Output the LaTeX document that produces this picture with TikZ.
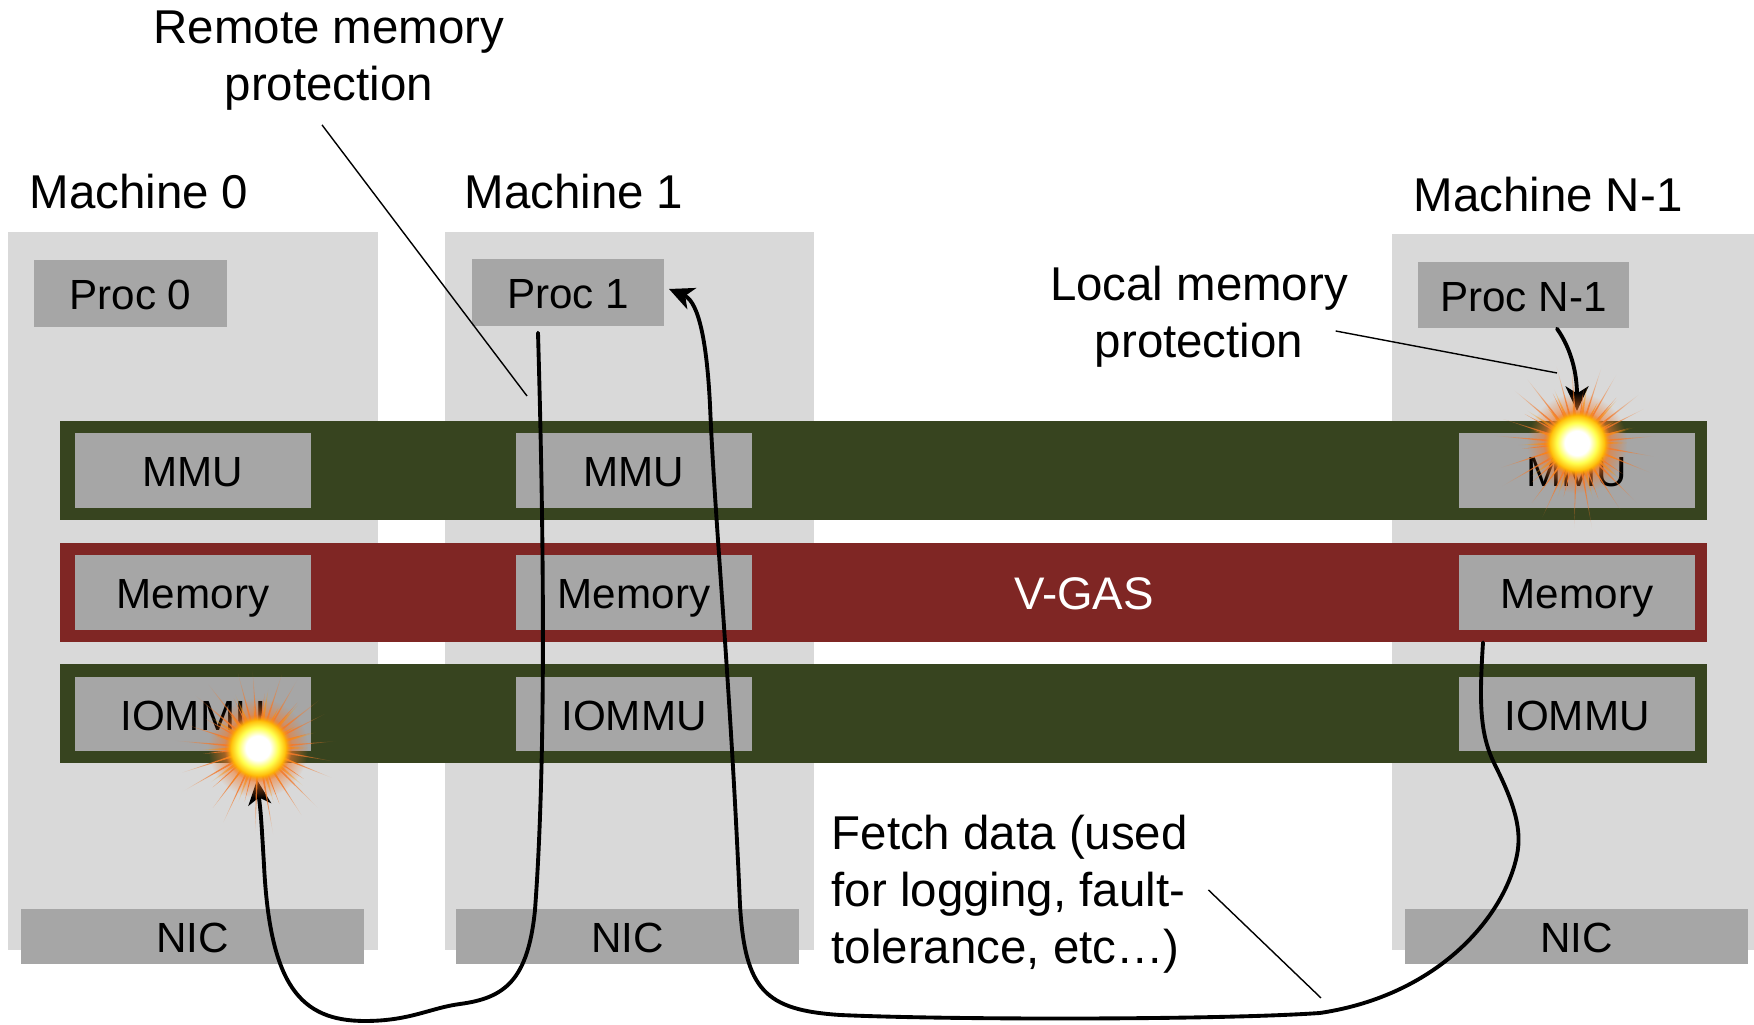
\documentclass[tikz,border=0pt]{standalone}
\usepackage{fontspec}
\setmainfont{Liberation Sans}
\usepackage{tikz}
\usetikzlibrary{arrows.meta, fadings}

\definecolor{colgray}{HTML}{D9D9D9}
\definecolor{boxgray}{HTML}{A6A6A6}
\definecolor{bargreen}{HTML}{37441F}
\definecolor{barred}{HTML}{7F2624}
\definecolor{flame}{HTML}{F47A2A}

% glow of a protection fault
\pgfdeclareradialshading{burstcore}{\pgfpoint{0cm}{0cm}}{color(0bp)=(white); color(9bp)=(white); color(15bp)=(yellow!70!white); color(21bp)=(orange!60!yellow); color(25bp)=(flame)}
\pgfdeclareradialshading{raysalpha}{\pgfpoint{0cm}{0cm}}{color(0bp)=(white); color(13bp)=(white!85!black); color(25bp)=(black); color(50bp)=(black)}
\pgfdeclarefading{raysfade}{\pgfuseshading{raysalpha}}

\tikzset{
>={Stealth[length=7pt,width=6.5pt,inset=2pt]}, % arrow heads of the data paths
machine/.style={fill=colgray, inner sep=0pt, minimum height=7.18cm}, % one column per machine
unit/.style={fill=boxgray, inner sep=0pt, text height=0.33cm, text depth=0pt, minimum width=2.36cm, minimum height=0.745cm, font=\fontsize{12}{14}\selectfont},
bar/.style={inner sep=0pt, minimum width=16.47cm, minimum height=0.99cm}, % layers spanning all machines
title/.style={inner sep=0pt, font=\fontsize{13.5}{16.2}\selectfont},
note/.style={inner sep=0pt, font=\fontsize{13.5}{16.2}\selectfont},
flow/.style={line width=1.1pt, line cap=round},
leader/.style={line width=0.4pt},
burst/.pic={
  % long rays
  \fill[flame, path fading=raysfade]
    (0:0.1) \foreach \a/\r in {5/0.8, 16/0.55, 27/0.75, 38/0.9, 49/0.6, 60/0.8, 72/0.85, 83/0.55, 94/0.78,
      105/0.8, 116/0.55, 128/0.88, 140/0.9, 151/0.6, 162/0.78, 175/0.85, 186/0.55, 198/0.8,
      210/0.88, 221/0.6, 233/0.75, 245/0.82, 256/0.55, 268/0.85, 280/0.9, 291/0.6, 303/0.8,
      315/0.85, 326/0.55, 338/0.8, 350/0.78}
      { -- (\a-4:0.16) -- (\a:\r) -- (\a+4:0.16) } -- cycle;
  % short rays
  \fill[orange!80!yellow, path fading=raysfade]
    (0:0.1) \foreach \a/\r in {0/0.5, 15/0.62, 30/0.42, 47/0.6, 63/0.45, 80/0.62, 96/0.42, 113/0.58,
      130/0.45, 147/0.62, 164/0.45, 182/0.6, 198/0.42, 216/0.62, 233/0.45, 250/0.6, 268/0.42,
      286/0.6, 303/0.45, 320/0.62, 338/0.45}
      { -- (\a-6:0.17) -- (\a:\r) -- (\a+6:0.17) } -- cycle;
  \fill[flame, path fading=raysfade] (0,0) circle (0.5);
  \shade[shading=burstcore, path fading=circle with fuzzy edge 20 percent] (0,0) circle (0.34);
}
}

\begin{document}
\begin{tikzpicture}
    \useasboundingbox (0,0) rectangle (17.54,10.25);

    % machines
    \node[machine, minimum width=3.70cm] (m0) at (1.93,4.34) {};
    \node[machine, minimum width=3.69cm] (m1) at (6.295,4.34) {};
    \node[machine, minimum width=3.62cm, minimum height=7.16cm] (mN) at (15.73,4.33) {};
    \node[title] (t0) at (1.39,8.33) {Machine 0};
    \node[title] (t1) at (5.74,8.33) {Machine 1};
    \node[title] (tN) at (15.48,8.30) {Machine N-1};

    % processors
    \node[unit, minimum width=1.93cm, minimum height=0.67cm] (p0) at (1.305,7.315) {Proc 0};
    \node[unit, minimum width=1.92cm, minimum height=0.67cm] (p1) at (5.68,7.325) {Proc 1};
    \node[unit, minimum width=2.11cm, minimum height=0.66cm] (pN) at (15.235,7.30) {Proc N-1};

    % MMU, V-GAS and IOMMU layers
    \node[bar, fill=bargreen] (mmubar) at (8.835,5.545) {};
    \node[bar, fill=barred] (gasbar) at (8.835,4.325) {};
    \node[bar, fill=bargreen] (iobar) at (8.835,3.11) {};
    \node[inner sep=0pt, text=white, font=\fontsize{13}{15}\selectfont] (vgas) at (10.84,4.31) {V-GAS};

    \node[unit] (mmu0) at (1.93,5.545) {MMU};
    \node[unit] (mmu1) at (6.34,5.545) {MMU};
    \node[unit] (mmuN) at (15.77,5.545) {MMU};
    \node[unit] (mem0) at (1.93,4.325) {Memory};
    \node[unit] (mem1) at (6.34,4.325) {Memory};
    \node[unit] (memN) at (15.77,4.325) {Memory};
    \node[unit] (io0) at (1.93,3.11) {IOMMU};
    \node[unit] (io1) at (6.34,3.11) {IOMMU};
    \node[unit] (ioN) at (15.77,3.11) {IOMMU};

    % network cards
    \node[unit, minimum width=3.43cm, minimum height=0.55cm] (nic0) at (1.925,0.885) {NIC};
    \node[unit, minimum width=3.43cm, minimum height=0.55cm] (nic1) at (6.275,0.885) {NIC};
    \node[unit, minimum width=3.43cm, minimum height=0.55cm] (nicN) at (15.765,0.885) {NIC};

    % notes
    \node[note, align=center] (remote) at (3.29,9.645) {Remote memory\\protection};
    \node[note, align=center] (local) at (11.99,7.08) {Local memory\\protection};
    \node[note, align=left, anchor=west] (fetch) at (8.31,1.31) {Fetch data (used\\for logging, fault-\\tolerance, etc\ldots)};

    \coordinate (hit0) at (2.57,2.45);
    \coordinate (hitP) at (6.69,7.36);
    \coordinate (hitN) at (15.77,6.14);

    % data paths
    \draw[flow, ->] ([xshift=-0.3cm, yshift=-0.06cm]p1.south)
        .. controls (5.45,4.5) and (5.45,2.5) .. (5.35,1.15)
        .. controls (5.28,0.45) and (5.05,0.27) .. (4.60,0.21)
        .. controls (4.30,0.17) and (4.10,0.04) .. (3.65,0.04)
        .. controls (3.00,0.04) and (2.70,0.40) .. (2.64,1.60)
        .. controls (2.61,2.1) .. (hit0);
    \draw[flow, ->] ([xshift=-0.94cm, yshift=-0.12cm]memN.south)
        .. controls (14.79,3.2) and (14.80,2.9) .. (14.95,2.60)
        .. controls (15.15,2.2) and (15.22,1.95) .. (15.17,1.70)
        .. controls (15.05,1.1) and (14.4,0.3) .. (13.20,0.12)
        .. controls (12.2,0.05) and (9.5,0.05) .. (8.40,0.10)
        .. controls (7.65,0.15) and (7.45,0.35) .. (7.40,1.2)
        .. controls (7.30,3.5) and (7.15,5.0) .. (7.10,6.2)
        .. controls (7.06,7.0) and (6.95,7.25) .. (hitP);
    \draw[flow, ->] ([xshift=0.335cm]pN.south) .. controls (15.72,6.75) and (15.77,6.5) .. (hitN);

    % faults
    \pic at (2.58,2.77) {burst};
    \pic at (15.77,5.82) {burst};

    % note leaders
    \draw[leader] ([xshift=-0.07cm, yshift=-0.14cm]remote.south) -- (5.27,6.29);
    \draw[leader] ([xshift=-0.13cm, yshift=-0.14cm]local.east) -- (15.57,6.52);
    \draw[leader] ([xshift=0.2cm, yshift=0.04cm]fetch.east) -- (13.21,0.27);
\end{tikzpicture}
\end{document}
